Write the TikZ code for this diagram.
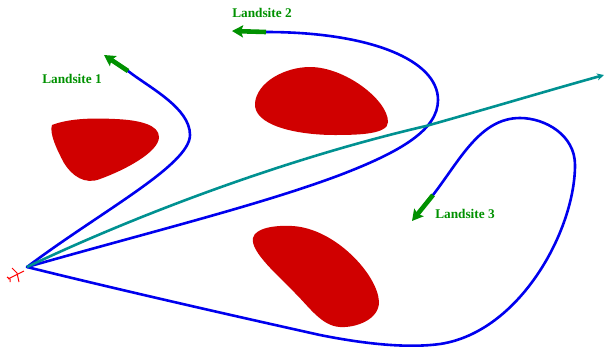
\documentclass[tikz,border=0pt]{standalone}
\usepackage{fontspec}
\setmainfont{Liberation Serif}
\usetikzlibrary{arrows.meta}
\definecolor{blobred}{RGB}{208,0,0}
\definecolor{pathblue}{RGB}{0,0,238}
\definecolor{pathteal}{RGB}{0,145,145}
\definecolor{sitegreen}{RGB}{0,145,0}
\tikzset{
  blob/.style={fill=blobred,draw=none},
  route/.style={draw=pathblue,line width=2.6pt,line cap=round,line join=round},
  ray/.style={draw=pathteal,line width=2.6pt,-{Stealth[length=7pt,width=7pt]}},
  finish/.style={draw=sitegreen,line width=4.6pt,-{Stealth[length=11pt,width=12pt,inset=2pt]}},
  site/.style={text=sitegreen,font=\bfseries\fontsize{13.3}{15}\selectfont,inner sep=0pt},
  plane/.style={draw=red,line width=1pt}
}
\begin{document}
\begin{tikzpicture}[x=1pt,y=-1pt]
\useasboundingbox (0,0) rectangle (604,346);
% obstacles
\path[blob] (52,125) .. controls (70,118) and (95,118) .. (115,119) .. controls (140,120) and (159,125) .. (159,137) .. controls (159,152) and (125,170) .. (100,179) .. controls (85,185) and (72,176) .. (64,163) .. controls (57,150) and (49,133) .. (52,125) -- cycle;
\path[blob] (255,103) .. controls (257,82) and (285,67) .. (310,67) .. controls (345,67) and (388,100) .. (388,122) .. controls (388,134) and (360,135) .. (335,135) .. controls (295,135) and (253,125) .. (255,103) -- cycle;
\path[blob] (253,238) .. controls (255,228) and (275,225) .. (292,226) .. controls (335,228) and (378,275) .. (379,302) .. controls (379,320) and (355,328) .. (340,327) .. controls (322,326) and (310,308) .. (295,293) .. controls (280,277) and (250,252) .. (253,238) -- cycle;
% named points
\coordinate (start) at (27,267);
\coordinate (e1) at (128,71);
\coordinate (t1) at (104,55);
\coordinate (e2) at (266,32);
\coordinate (t2) at (232,31);
\coordinate (e3) at (433,195);
\coordinate (t3) at (412,221);
\coordinate (tip) at (604,75);
% routes
\draw[route] (start) .. controls (100,212) and (190,165) .. (190,135) .. controls (190,108) and (150,88) .. (e1);
\draw[route] (start) .. controls (150,232) and (260,205) .. (340,175) .. controls (400,152) and (438,130) .. (438,100) .. controls (438,60) and (370,32) .. (e2);
\draw[route] (start) .. controls (120,290) and (230,315) .. (320,335) .. controls (370,345) and (410,348) .. (440,344) .. controls (520,332) and (575,230) .. (575,165) .. controls (575,135) and (545,118) .. (520,118) .. controls (480,118) and (460,160) .. (e3);
\draw[ray] (start) .. controls (130,218) and (280,160) .. (426,126) .. controls (490,108) and (550,90) .. (tip);
% terminal legs
\draw[finish] (e1) -- (t1);
\draw[finish] (e2) -- (t2);
\draw[finish] (e3) -- (t3);
% aircraft
\coordinate (noseP) at (24,271);
\coordinate (aftP) at (8,279);
\coordinate (wingA) at (12,268);
\coordinate (wingM) at (17,273);
\coordinate (wingB) at (19,282);
\coordinate (tailA) at (7,277);
\coordinate (tailM) at (10,279);
\coordinate (tailB) at (10,282);
\draw[plane] (noseP) -- (aftP);
\draw[plane] (wingA) -- (wingM) -- (wingB);
\draw[plane] (tailA) -- (tailM) -- (tailB);
% labels
\node[site] (l1) at (72,79) {Landsite 1};
\node[site] (l2) at (262,13) {Landsite 2};
\node[site] (l3) at (465,214) {Landsite 3};
\end{tikzpicture}
\end{document}
